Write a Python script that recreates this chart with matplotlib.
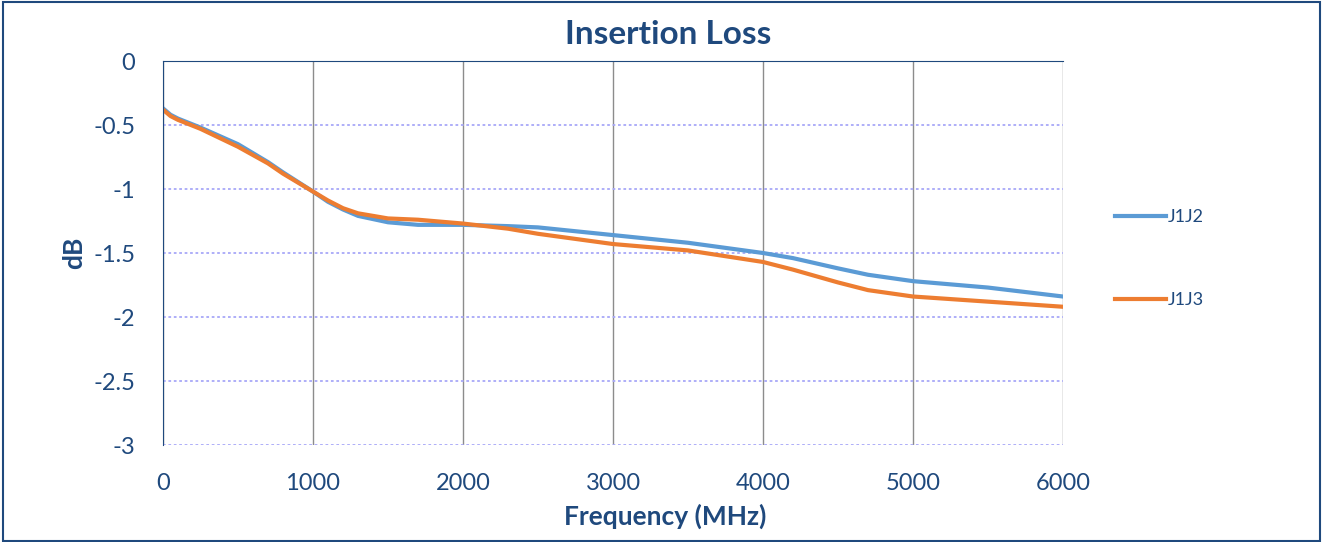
import matplotlib.pyplot as plt
from matplotlib.patches import Rectangle

plt.rcParams['font.family'] = ['Lato', 'DejaVu Sans']

freq = [0, 50, 100, 250, 500, 700, 800, 1000, 1100, 1200, 1300, 1500, 1700,
        2000, 2300, 2500, 3000, 3500, 4000, 4200, 4500, 4700, 5000, 5500, 6000]
j1j2 = [-0.37, -0.42, -0.45, -0.52, -0.65, -0.79, -0.87, -1.02, -1.10, -1.16,
        -1.21, -1.26, -1.28, -1.28, -1.29, -1.30, -1.36, -1.42, -1.50, -1.54,
        -1.62, -1.67, -1.72, -1.77, -1.84]
j1j3 = [-0.38, -0.43, -0.46, -0.53, -0.67, -0.80, -0.88, -1.02, -1.09, -1.15,
        -1.19, -1.23, -1.24, -1.27, -1.31, -1.35, -1.43, -1.48, -1.57, -1.63,
        -1.73, -1.79, -1.84, -1.88, -1.92]

dark = '#1F497D'

fig = plt.figure(figsize=(13.23, 5.42), dpi=100)
ax = fig.add_axes([163 / 1323, 1 - 445 / 542, 900 / 1323, 384 / 542])

ax.plot(freq, j1j2, color='#5B9BD5', lw=3, label='J1J2')
ax.plot(freq, j1j3, color='#ED7D31', lw=3, label='J1J3')

ax.set_xlim(0, 6000)
ax.set_ylim(-3, 0)
ax.set_xticks(range(0, 6001, 1000))
ax.set_yticks([0, -0.5, -1, -1.5, -2, -2.5, -3])
ax.set_yticklabels(['0', '-0.5', '-1', '-1.5', '-2', '-2.5', '-3'])
ax.tick_params(length=0, labelsize=17, labelcolor=dark)
ax.tick_params(axis='x', pad=20)
ax.tick_params(axis='y', pad=20)

ax.xaxis.grid(True, color='#8c8c8c', lw=1)
ax.yaxis.grid(True, color='#a8a8f8', lw=1.3, ls=(0, (1.5, 1.5)))
ax.set_axisbelow(True)
for s in ['right', 'bottom']:
    ax.spines[s].set_visible(False)
ax.spines['left'].set_color(dark)
ax.spines['top'].set_color(dark)

# title and x label are centred on the whole chart, not the plot area
fig.text(668 / 1323, 1 - 35 / 542, 'Insertion Loss', fontsize=24, fontweight='bold',
         color=dark, ha='center', va='center')
fig.text(665 / 1323, 1 - 516 / 542, 'Frequency (MHz)', fontsize=19, fontweight='bold',
         color=dark, ha='center', va='center')
ax.set_ylabel('dB', fontsize=19, fontweight='bold', color=dark, labelpad=5)

leg = ax.legend(loc='center left', bbox_to_anchor=(1.04, 0.485), frameon=False,
                fontsize=13, labelspacing=3.7, handlelength=2.8, handletextpad=0.1)
for t in leg.get_texts():
    t.set_color(dark)

fig.patches.append(Rectangle((0.002, 0.002), 0.996, 0.994, transform=fig.transFigure,
                             fill=False, edgecolor=dark, lw=1.5))

fig.savefig('out.png', dpi=100)
